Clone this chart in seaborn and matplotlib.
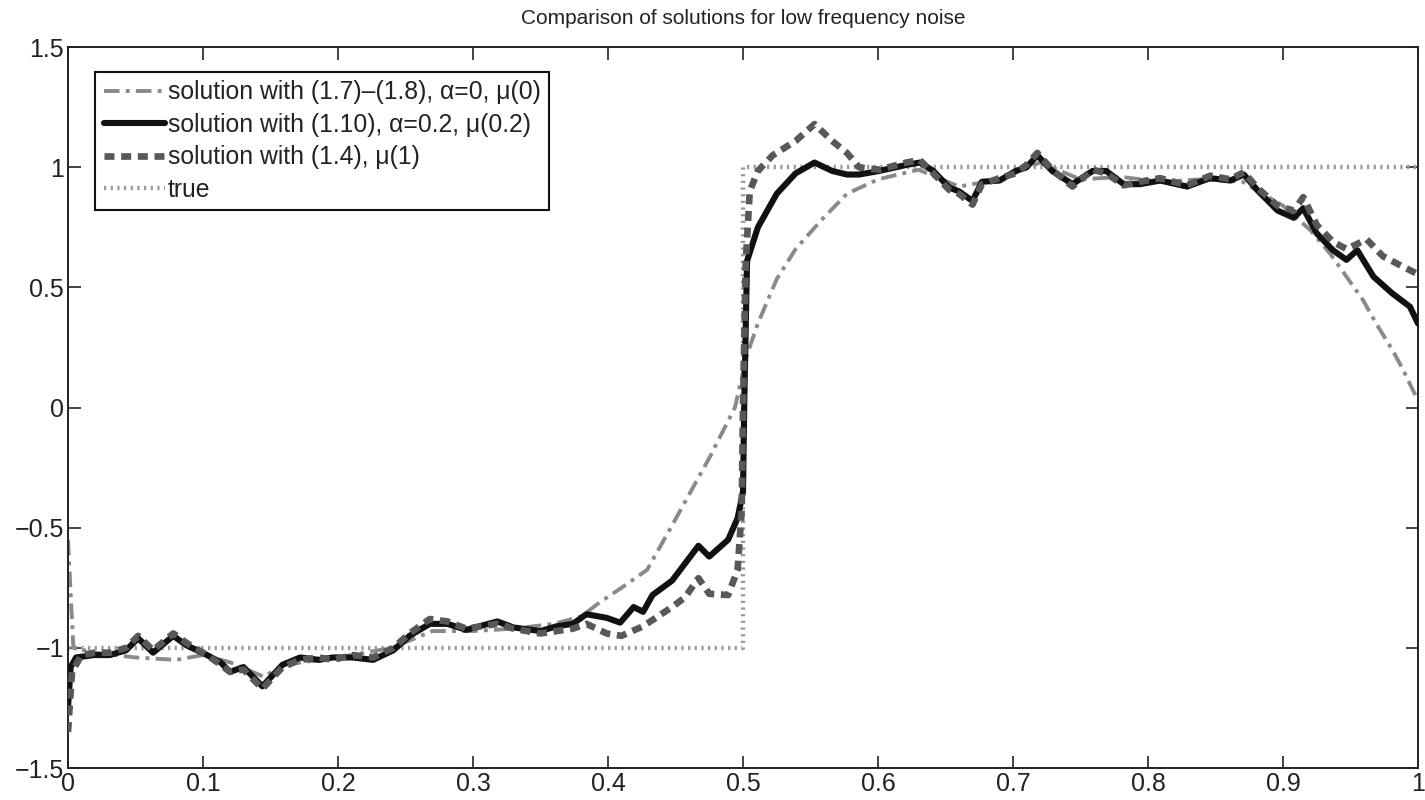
import matplotlib
matplotlib.use("Agg")
import matplotlib.pyplot as plt
import seaborn as sns
import numpy as np
import pandas as pd

# --- solution with (1.7)-(1.8), alpha=0, mu(0) ---
dd_x = [0, 0.004, 0.02, 0.05, 0.08, 0.1, 0.12, 0.145, 0.16, 0.2, 0.24, 0.27,
        0.3, 0.33, 0.36, 0.38, 0.394, 0.41, 0.429, 0.4475, 0.475, 0.494, 0.503,
        0.511, 0.525, 0.539, 0.558, 0.577, 0.6, 0.63, 0.66, 0.69, 0.72, 0.75,
        0.78, 0.81, 0.84, 0.87, 0.9, 0.92, 0.935, 0.947, 0.959, 0.969, 0.981,
        0.989, 0.996, 1.0]
dd_y = [-0.55, -1.0, -1.02, -1.04, -1.05, -1.03, -1.06, -1.12, -1.07, -1.04,
        -1.0, -0.93, -0.93, -0.92, -0.9, -0.87, -0.81, -0.75, -0.675, -0.49,
        -0.21, 0.0, 0.22, 0.35, 0.535, 0.66, 0.78, 0.89, 0.95, 0.99, 0.92,
        0.95, 1.02, 0.95, 0.96, 0.94, 0.95, 0.94, 0.84, 0.74, 0.64, 0.545,
        0.45, 0.35, 0.24, 0.157, 0.075, 0.03]

# --- solution with (1.10), alpha=0.2, mu(0.2) ---
sol_x = [0, 0.002, 0.006, 0.019, 0.031, 0.043, 0.052, 0.063, 0.078, 0.088,
         0.103, 0.113, 0.12, 0.13, 0.144, 0.159, 0.172, 0.186, 0.196, 0.211,
         0.226, 0.241, 0.253, 0.268, 0.281, 0.295, 0.318, 0.33, 0.35, 0.362,
         0.374, 0.384, 0.399, 0.409, 0.419, 0.426, 0.433, 0.4475, 0.467, 0.475,
         0.489, 0.496, 0.5, 0.501, 0.503, 0.511, 0.525, 0.539, 0.553, 0.566,
         0.577, 0.586, 0.601, 0.621, 0.631, 0.641, 0.653, 0.66, 0.67, 0.677,
         0.69, 0.702, 0.71, 0.718, 0.729, 0.744, 0.759, 0.769, 0.782, 0.794,
         0.809, 0.829, 0.846, 0.861, 0.871, 0.881, 0.896, 0.908, 0.915, 0.925,
         0.937, 0.947, 0.955, 0.967, 0.981, 0.994, 1.0]
sol_y = [-1.25, -1.08, -1.04, -1.03, -1.03, -1.01, -0.96, -1.02, -0.95, -0.99,
         -1.03, -1.06, -1.1, -1.08, -1.16, -1.07, -1.04, -1.05, -1.04, -1.04,
         -1.05, -1.01, -0.95, -0.9, -0.9, -0.925, -0.89, -0.915, -0.93, -0.91,
         -0.9, -0.86, -0.875, -0.895, -0.83, -0.85, -0.78, -0.72, -0.575, -0.62,
         -0.55, -0.46, -0.35, 0.04, 0.61, 0.75, 0.89, 0.975, 1.02, 0.985,
         0.97, 0.97, 0.985, 1.01, 1.02, 0.985, 0.915, 0.9, 0.86, 0.94,
         0.945, 0.985, 1.0, 1.05, 0.985, 0.93, 0.985, 0.985, 0.93, 0.93,
         0.945, 0.92, 0.955, 0.945, 0.97, 0.905, 0.82, 0.79, 0.83, 0.725,
         0.655, 0.615, 0.655, 0.545, 0.475, 0.42, 0.35]

# --- solution with (1.4), mu(1) ---
pl_x = [0, 0.003, 0.01, 0.02, 0.031, 0.043, 0.052, 0.063, 0.078, 0.088, 0.103,
        0.113, 0.12, 0.13, 0.144, 0.159, 0.172, 0.186, 0.196, 0.211, 0.226,
        0.241, 0.253, 0.268, 0.281, 0.295, 0.318, 0.33, 0.35, 0.362, 0.374,
        0.384, 0.399, 0.41, 0.426, 0.4475, 0.457, 0.467, 0.475, 0.489, 0.496,
        0.499, 0.5, 0.502, 0.505, 0.511, 0.522, 0.539, 0.553, 0.566, 0.577,
        0.586, 0.601, 0.621, 0.631, 0.641, 0.653, 0.66, 0.67, 0.677, 0.69,
        0.702, 0.71, 0.718, 0.729, 0.744, 0.759, 0.769, 0.782, 0.794, 0.809,
        0.829, 0.846, 0.861, 0.871, 0.881, 0.896, 0.908, 0.915, 0.925, 0.937,
        0.947, 0.962, 0.974, 0.989, 1.0]
pl_y = [-1.35, -1.1, -1.03, -1.02, -1.02, -1.0, -0.95, -1.01, -0.94, -0.98,
        -1.03, -1.07, -1.1, -1.09, -1.17, -1.08, -1.05, -1.04, -1.05, -1.03,
        -1.04, -1.0, -0.94, -0.88, -0.89, -0.92, -0.9, -0.92, -0.94, -0.93,
        -0.92, -0.9, -0.94, -0.95, -0.91, -0.83, -0.79, -0.71, -0.775, -0.78,
        -0.675, -0.43, 0.0, 0.6, 0.9, 0.985, 1.05, 1.11, 1.18, 1.11, 1.06,
        1.0, 0.99, 1.02, 1.03, 0.975, 0.905, 0.89, 0.845, 0.93, 0.955,
        0.975, 1.01, 1.06, 0.99, 0.92, 0.99, 0.975, 0.925, 0.94, 0.955,
        0.925, 0.965, 0.95, 0.98, 0.915, 0.84, 0.82, 0.876, 0.76, 0.69,
        0.66, 0.7, 0.63, 0.586, 0.555]

# --- true solution (step) ---
true_x = [0, 0.5, 1.0]
true_y = [-1, 1, 1]

labels = ["solution with (1.7)\u2013(1.8), \u03b1=0, \u03bc(0)",
          "solution with (1.10), \u03b1=0.2, \u03bc(0.2)",
          "solution with (1.4), \u03bc(1)",
          "true"]
title = "Comparison of solutions for low frequency noise"

x_ticks = [0, 0.1, 0.2, 0.3, 0.4, 0.5, 0.6, 0.7, 0.8, 0.9, 1]
x_tick_labels = ["0", "0.1", "0.2", "0.3", "0.4", "0.5", "0.6", "0.7", "0.8", "0.9", "1"]
y_ticks = [-1.5, -1, -0.5, 0, 0.5, 1, 1.5]
y_tick_labels = ["\u22121.5", "\u22121", "\u22120.5", "0", "0.5", "1", "1.5"]

sns.set_style("ticks")
plt.rcParams["font.family"] = ["Liberation Sans", "DejaVu Sans"]

fig = plt.figure(figsize=(14.25, 8), dpi=100)
ax = fig.add_axes([0.0477, 0.04, 0.9474, 0.901])

common = dict(ax=ax, estimator=None, sort=False)
sns.lineplot(x=dd_x, y=dd_y, color="#8a8a8a", lw=2.8, dashes=False,
             label=labels[0], zorder=2, **common)
ax.lines[-1].set_dashes([4, 1.6, 1, 1.6])
sns.lineplot(x=sol_x, y=sol_y, color="#111111", lw=4.4,
             label=labels[1], zorder=3, **common)
sns.lineplot(x=pl_x, y=pl_y, color="#585858", lw=4.8,
             label=labels[2], zorder=4, **common)
ax.lines[-1].set_dashes([1.5, 1.0])
sns.lineplot(x=true_x, y=true_y, color="#9a9a9a", lw=3.2, drawstyle="steps-post",
             label=labels[3], zorder=1, **common)
ax.lines[-1].set_dashes([0.5, 1.0])

ax.set_xlim(0, 1)
ax.set_ylim(-1.5, 1.5)
ax.set_xticks(x_ticks)
ax.set_xticklabels(x_tick_labels)
ax.set_yticks(y_ticks)
ax.set_yticklabels(y_tick_labels)
ax.tick_params(direction="in", length=9, width=1.2, labelsize=18, top=True,
               right=True, colors="#222222", pad=3)
for s in ax.spines.values():
    s.set_visible(True)
    s.set_linewidth(1.4)
    s.set_color("#222222")

ax.set_title(title, fontsize=15, pad=17, color="#222222")

leg = ax.legend(loc="upper left", bbox_to_anchor=(0.02, 0.966), fontsize=17.8,
                frameon=True, fancybox=False, edgecolor="#111111",
                framealpha=1, handlelength=2.5, handletextpad=0.1,
                labelspacing=0.34, borderpad=0.35, borderaxespad=0)
leg.get_frame().set_linewidth(1.5)
for t in leg.get_texts():
    t.set_color("#222222")

fig.savefig("out.png", dpi=100)
